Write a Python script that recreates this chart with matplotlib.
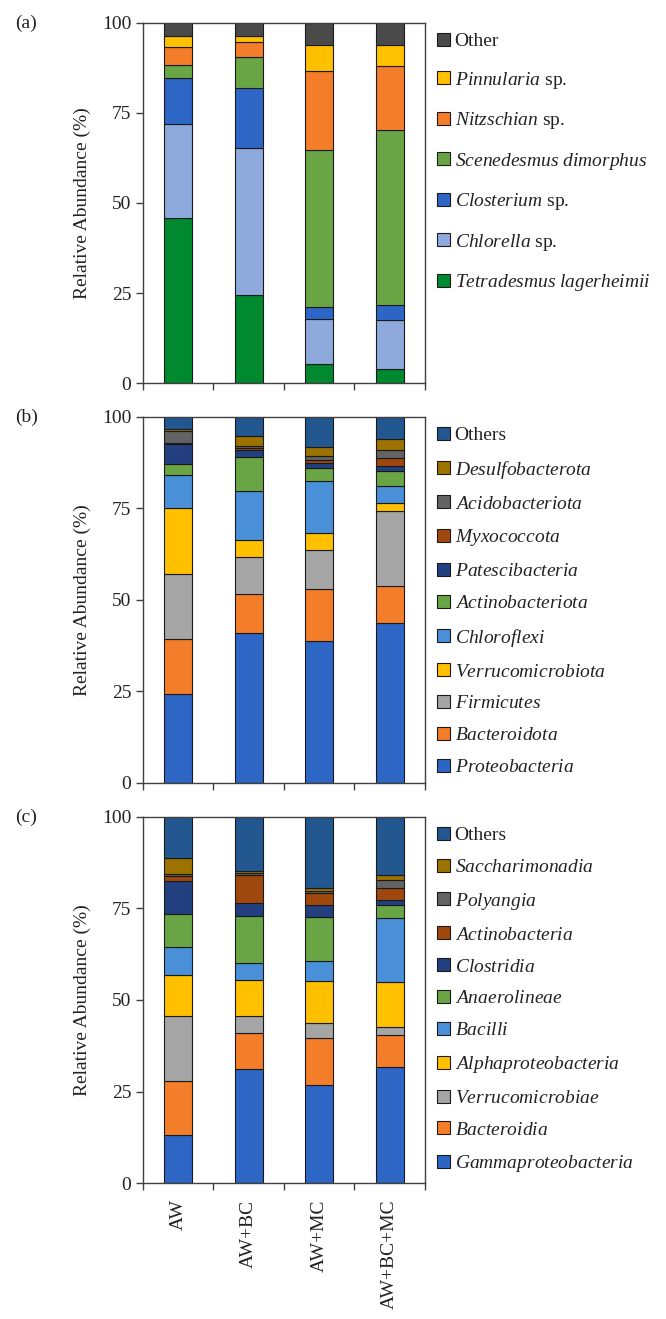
import numpy as np
import matplotlib
matplotlib.use("Agg")
import matplotlib.pyplot as plt

plt.rcParams['font.family'] = ['Liberation Serif', 'DejaVu Serif']
plt.rcParams['mathtext.fontset'] = 'custom'
plt.rcParams['mathtext.it'] = 'Liberation Serif:italic'
plt.rcParams['mathtext.rm'] = 'Liberation Serif'

samples = ["AW", "AW+BC", "AW+MC", "AW+BC+MC"]

# (a) algae, bottom -> top
algae = ["Tetradesmus lagerheimii", "Chlorella sp.", "Closterium sp.",
         "Scenedesmus dimorphus", "Nitzschian sp.", "Pinnularia sp.", "Other"]
algae_labels = [r"$\mathit{Tetradesmus\ lagerheimii}$", r"$\mathit{Chlorella}$ sp.",
                r"$\mathit{Closterium}$ sp.", r"$\mathit{Scenedesmus\ dimorphus}$",
                r"$\mathit{Nitzschian}$ sp.", r"$\mathit{Pinnularia}$ sp.", "Other"]
algae_vals = [
    [45.8, 24.4, 5.4, 3.9],
    [26.1, 40.9, 12.4, 13.5],
    [12.8, 16.5, 3.3, 4.4],
    [3.7, 8.7, 43.6, 48.6],
    [4.9, 4.2, 21.9, 17.6],
    [3.0, 1.8, 7.4, 5.8],
    [3.7, 3.5, 6.0, 6.2],
]
algae_colors = ["#00892E", "#8EA9DB", "#2E66C5", "#6AA545", "#F47D2A", "#FFC000", "#4A4A4A"]

# (b) phylum, bottom -> top
phyla = ["Proteobacteria", "Bacteroidota", "Firmicutes", "Verrucomicrobiota",
         "Chloroflexi", "Actinobacteriota", "Patescibacteria", "Myxococcota",
         "Acidobacteriota", "Desulfobacterota", "Others"]
phyla_vals = [
    [24.3, 41.1, 38.8, 43.6],
    [14.9, 10.5, 14.1, 10.3],
    [18.0, 10.1, 10.8, 20.5],
    [17.8, 4.7, 4.5, 2.2],
    [9.2, 13.4, 14.2, 4.6],
    [3.0, 9.3, 3.6, 3.9],
    [5.4, 1.8, 1.4, 1.6],
    [0.3, 0.6, 0.7, 2.0],
    [3.2, 0.6, 1.1, 2.3],
    [0.7, 2.6, 2.6, 2.9],
    [3.5, 5.3, 8.2, 6.0],
]

# (c) class, bottom -> top
classes = ["Gammaproteobacteria", "Bacteroidia", "Verrucomicrobiae", "Alphaproteobacteria",
           "Bacilli", "Anaerolineae", "Clostridia", "Actinobacteria", "Polyangia",
           "Saccharimonadia", "Others"]
class_vals = [
    [13.2, 31.1, 26.8, 31.6],
    [14.6, 9.9, 12.7, 8.8],
    [17.9, 4.5, 4.2, 2.1],
    [11.0, 10.1, 11.5, 12.4],
    [7.8, 4.5, 5.5, 17.4],
    [9.1, 12.8, 12.0, 3.6],
    [9.0, 3.6, 3.3, 1.4],
    [1.2, 7.7, 3.2, 3.4],
    [0.5, 0.5, 0.6, 2.0],
    [4.6, 0.6, 0.7, 1.4],
    [11.2, 14.7, 19.4, 16.0],
]
bact_colors = ["#2E66C5", "#F47D2A", "#A5A5A5", "#FFC000", "#4A90D9", "#6AA545",
               "#22407F", "#9E480E", "#636363", "#9C7200", "#22578F"]


def italic(names):
    out = []
    for n in names:
        if n == "Others":
            out.append(n)
        else:
            out.append(r"$\mathit{" + n + "}$")
    return out


fig = plt.figure(figsize=(6.66, 13.19), dpi=100)
left, width = 0.2147, 0.4233
boxes = [(0.7096, 0.2730), (0.4064, 0.2775), (0.1031, 0.2775)]
panels = [
    (algae_vals, algae_labels, algae_colors, "(a)", 1.0),
    (phyla_vals, italic(phyla), bact_colors, "(b)", 0.75),
    (class_vals, italic(classes), bact_colors, "(c)", 0.75),
]

x = np.arange(len(samples))
for i, ((vals, labels, colors, tag, lsp), (b, h)) in enumerate(zip(panels, boxes)):
    ax = fig.add_axes([left, b, width, h])
    bottom = np.zeros(len(samples))
    handles = []
    for v, lab, c in zip(vals, labels, colors):
        bars = ax.bar(x, v, 0.4, bottom=bottom, color=c, edgecolor="#1a1a1a",
                      linewidth=0.8, label=lab)
        bottom += np.array(v)
        handles.append(bars)
    ax.set_xlim(-0.5, 3.5)
    ax.set_ylim(0, 100)
    ax.set_yticks([0, 25, 50, 75, 100])
    ax.set_xticks(np.arange(-0.5, 4, 1))
    ax.set_xticklabels([])
    ax.tick_params(axis='both', direction='out', length=5, width=1, color="#404040",
                   labelsize=14, labelcolor="#222222")
    for s in ax.spines.values():
        s.set_color("#404040")
        s.set_linewidth(1)
    ax.set_ylabel("Relative Abundance (%)", fontsize=14, color="#222222", labelpad=8)
    ax.text(-0.455, 1.0, tag, transform=ax.transAxes, fontsize=14, va='center',
            ha='left', color="#222222")
    ax.legend(handles[::-1], labels[::-1], loc='upper left', bbox_to_anchor=(0.995, 1.01),
              frameon=False, fontsize=14, handlelength=0.65, handleheight=0.65,
              handletextpad=0.25, labelspacing=lsp, borderaxespad=0.3,
              labelcolor="#222222")
    if i == 2:
        for xi, s in zip(x, samples):
            ax.text(xi, -0.045, s, transform=ax.get_xaxis_transform(), rotation=90,
                    ha='center', va='top', fontsize=14, color="#222222")

fig.savefig("out.png", dpi=100)
